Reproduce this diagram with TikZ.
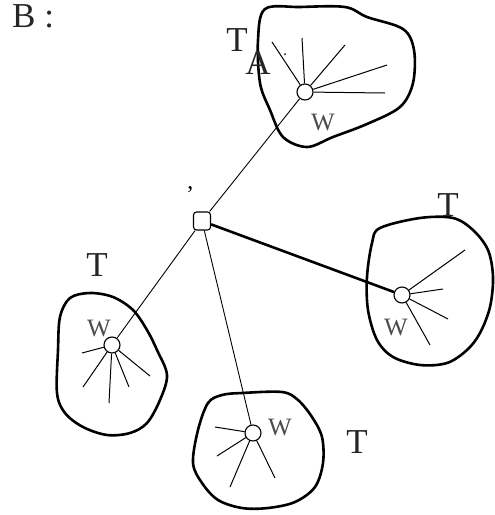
\documentclass[tikz,border=0pt]{standalone}
\usepackage{fontspec}
\setmainfont{Liberation Serif}
\usepackage{tikz}
\usetikzlibrary{positioning}

\begin{document}
\begin{tikzpicture}[
  x=1pt, y=-1pt,
  hub/.style={draw,circle,line width=1.1pt,fill=white,inner sep=0pt,minimum size=16pt},
  ctr/.style={draw,rounded corners=3pt,line width=1.1pt,fill=white,inner sep=0pt,minimum width=17pt,minimum height=18pt},
  blob/.style={line width=2.6pt,smooth cycle,tension=0.55},
  spk/.style={line width=1pt},
  lnk/.style={line width=0.9pt},
  big/.style={inner sep=0pt,text=black!85,font=\fontsize{35}{37}\selectfont},
  sml/.style={inner sep=0pt,text=black!70,font=\fontsize{25}{27}\selectfont}
]
  \useasboundingbox (0,0) rectangle (495,515);

  % outlines of the four parts
  \draw[blob] plot coordinates {(265,9) (300,7) (345,7) (367,17) (403,29) (414,50)
    (413,83) (400,107) (367,124) (333,137) (307,147) (283,137) (270,110) (260,83) (258,40)};
  \draw[blob] plot coordinates {(380,228) (420,218) (453,218) (473,230) (488,250) (493,277)
    (490,307) (480,333) (467,350) (447,363) (420,365) (393,357) (377,340) (368,310) (367,277) (372,243)};
  \draw[blob] plot coordinates {(70,298) (90,293) (113,297) (133,310) (147,330) (157,350)
    (167,375) (160,400) (147,423) (130,433) (107,435) (83,427) (65,413) (57,393) (58,350) (60,317)};
  \draw[blob] plot coordinates {(222,395) (242,393) (282,392) (298,400) (312,417) (322,437)
    (323,463) (315,487) (295,502) (268,508) (242,508) (218,500) (202,483) (193,463) (198,430) (208,403)};

  % nodes
  \node[ctr] (c) at (202,221) {};
  \node[hub] (ht) at (305,92) {};
  \node[hub] (hr) at (402,295) {};
  \node[hub] (hl) at (112,345) {};
  \node[hub] (hb) at (253,433) {};

  % links to the centre
  \draw[lnk] (c) -- (ht);
  \draw[lnk] (c) -- (hl);
  \draw[lnk] (c) -- (hb);
  \draw[line width=2.6pt] (c) -- (hr);

  % spokes
  \foreach \x/\y [count=\i] in {272/42,302/38,345/45,387/65,385/93} {
    \coordinate (st\i) at (\x,\y);
    \draw[spk] (ht) -- (st\i);
  }
  \foreach \x/\y [count=\i] in {465/250,443/289,448/319,430/345} {
    \coordinate (sr\i) at (\x,\y);
    \draw[spk] (hr) -- (sr\i);
  }
  \foreach \x/\y [count=\i] in {82/353,83/387,109/403,129/387,150/376} {
    \coordinate (sl\i) at (\x,\y);
    \draw[spk] (hl) -- (sl\i);
  }
  \foreach \x/\y [count=\i] in {215/427,217/456,230/487,275/478} {
    \coordinate (sb\i) at (\x,\y);
    \draw[spk] (hb) -- (sb\i);
  }

  % labels
  \node[big, anchor=west] (name) at (12,16) {B :};
  \node[big] (tt) at (237,40) {T};
  \node[big] (ta) at (258,63) {A};
  \node[inner sep=0pt, font=\fontsize{18}{18}\selectfont, text=black!70] (dot) at (285,55) {.};
  \node[inner sep=0pt, font=\fontsize{24}{24}\selectfont] (tick) at (190,195) {'};
  \node[sml] (wt) at (323,122) {W};
  \node[big] (tr) at (448,205) {T};
  \node[sml] (wr) at (396,327) {W};
  \node[big] (tl) at (97,265) {T};
  \node[sml] (wl) at (99,328) {W};
  \node[sml] (wb) at (280,427) {W};
  \node[big] (tb) at (357,442) {T};
\end{tikzpicture}
\end{document}
